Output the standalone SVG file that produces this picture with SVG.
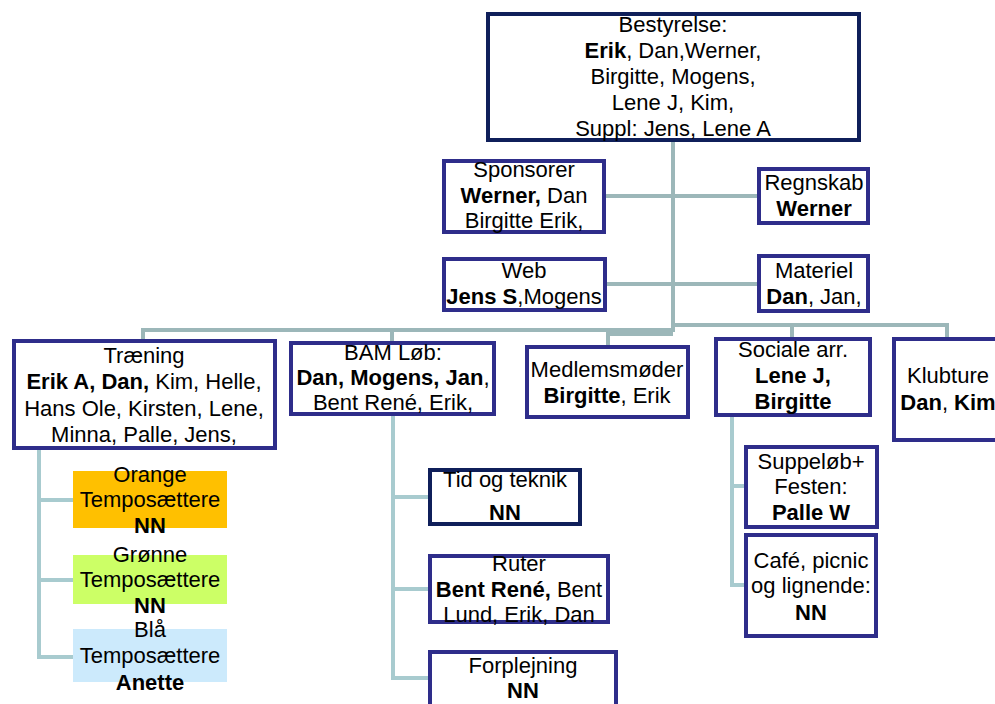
<svg xmlns="http://www.w3.org/2000/svg" width="995" height="704" viewBox="0 0 995 704">
<style>
text{font-family:"Liberation Sans",Arial,sans-serif;font-size:22px;fill:#000;text-anchor:middle}
.b{font-weight:bold}
.box{fill:#fff;stroke:#2e2d8a;stroke-width:4}
.navy{fill:#fff;stroke:#0f1f5a;stroke-width:4}
.ln{fill:none;stroke:#9cb7b9;stroke-width:4}
.ln2{fill:none;stroke:#a8cbcf;stroke-width:4}
</style>
<rect width="995" height="704" fill="#fff"/>
<g id="connectors">
<path class="ln" d="M673 142V332"/>
<path class="ln" d="M606 196H757"/>
<path class="ln" d="M607 284H757"/>
<path class="ln" d="M143 339V330H673"/>
<path class="ln" d="M392 341V330"/>
<path class="ln" d="M673 325H947V337"/>
<path class="ln" d="M792 325V337"/>
<path class="ln" d="M673 334H608V345"/>
<path class="ln2" d="M39 450V657H73M39 500H73M39 580H73"/>
<path class="ln2" d="M393 416V678H428M393 497H428M393 589H428"/>
<path class="ln2" d="M732 417V585H744M732 486H744"/>
</g>
<g id="bestyrelse">
<rect class="navy" x="488" y="14" width="371" height="126"/>
<text x="673" y="32">Bestyrelse:</text>
<text x="673" y="58"><tspan class="b">Erik</tspan>, Dan,Werner,</text>
<text x="673" y="84">Birgitte, Mogens,</text>
<text x="673" y="110">Lene J, Kim,</text>
<text x="673" y="136">Suppl: Jens, Lene A</text>
</g>
<g id="sponsorer">
<rect class="box" x="444" y="161" width="160" height="71"/>
<text x="524" y="177">Sponsorer</text>
<text x="524" y="203"><tspan class="b">Werner,</tspan> Dan</text>
<text x="524" y="228">Birgitte Erik,</text>
</g>
<g id="regnskab">
<rect class="box" x="759" y="169" width="109" height="54"/>
<text x="814" y="190">Regnskab</text>
<text x="814" y="216" class="b">Werner</text>
</g>
<g id="web">
<rect class="box" x="444" y="259" width="161" height="51"/>
<text x="524" y="278">Web</text>
<text x="524" y="304"><tspan class="b">Jens S</tspan>,Mogens</text>
</g>
<g id="materiel">
<rect class="box" x="759" y="256" width="109" height="55"/>
<text x="814" y="278">Materiel</text>
<text x="814" y="304"><tspan class="b">Dan</tspan>, Jan,</text>
</g>
<g id="traening">
<rect class="box" x="14" y="341" width="261" height="107"/>
<text x="144" y="363">Træning</text>
<text x="144" y="389"><tspan class="b">Erik A, Dan,</tspan> Kim, Helle,</text>
<text x="144" y="416">Hans Ole, Kirsten, Lene,</text>
<text x="144" y="442">Minna, Palle, Jens,</text>
</g>
<g id="bam">
<rect class="box" x="291" y="343" width="203" height="71"/>
<text x="393" y="360">BAM Løb:</text>
<text x="393" y="385"><tspan class="b">Dan, Mogens, Jan</tspan>,</text>
<text x="393" y="410">Bent René, Erik,</text>
</g>
<g id="medlemsmoeder">
<rect class="box" x="527" y="347" width="161" height="70"/>
<text x="607" y="377">Medlemsmøder</text>
<text x="607" y="403"><tspan class="b">Birgitte</tspan>, Erik</text>
</g>
<g id="sociale">
<rect class="box" x="716" y="339" width="154" height="76"/>
<text x="793" y="357">Sociale arr.</text>
<text x="793" y="383" class="b">Lene J,</text>
<text x="793" y="409" class="b">Birgitte</text>
</g>
<g id="klubture">
<rect class="box" x="894" y="339" width="112" height="101"/>
<text x="948" y="383">Klubture</text>
<text x="948" y="410"><tspan class="b">Dan</tspan>, <tspan class="b">Kim</tspan></text>
</g>
<g id="orange">
<rect x="73" y="471" width="154" height="57" fill="#ffc000"/>
<text x="150" y="482">Orange</text>
<text x="150" y="507">Temposættere</text>
<text x="150" y="533" class="b">NN</text>
</g>
<g id="groenne">
<rect x="73" y="555" width="154" height="49" fill="#ccff66"/>
<text x="150" y="562">Grønne</text>
<text x="150" y="587">Temposættere</text>
<text x="150" y="613" class="b">NN</text>
</g>
<g id="blaa">
<rect x="73" y="629" width="154" height="53" fill="#cceafc"/>
<text x="150" y="637">Blå</text>
<text x="150" y="663">Temposættere</text>
<text x="150" y="690" class="b">Anette</text>
</g>
<g id="tid">
<rect class="navy" x="430" y="470" width="150" height="54"/>
<text x="505" y="487">Tid og teknik</text>
<text x="505" y="520" class="b">NN</text>
</g>
<g id="ruter">
<rect class="box" x="430" y="556" width="178" height="66"/>
<text x="519" y="571">Ruter</text>
<text x="519" y="597"><tspan class="b">Bent René,</tspan> Bent</text>
<text x="519" y="622">Lund, Erik, Dan</text>
</g>
<g id="forplejning">
<rect class="box" x="430" y="652" width="186" height="70"/>
<text x="523" y="673">Forplejning</text>
<text x="523" y="698" class="b">NN</text>
</g>
<g id="suppeloeb">
<rect class="box" x="746" y="447" width="131" height="80"/>
<text x="811" y="469">Suppeløb+</text>
<text x="811" y="494">Festen:</text>
<text x="811" y="520" class="b">Palle W</text>
</g>
<g id="cafe">
<rect class="box" x="746" y="535" width="130" height="101"/>
<text x="811" y="568">Café, picnic</text>
<text x="811" y="593">og lignende:</text>
<text x="811" y="620" class="b">NN</text>
</g>
</svg>
